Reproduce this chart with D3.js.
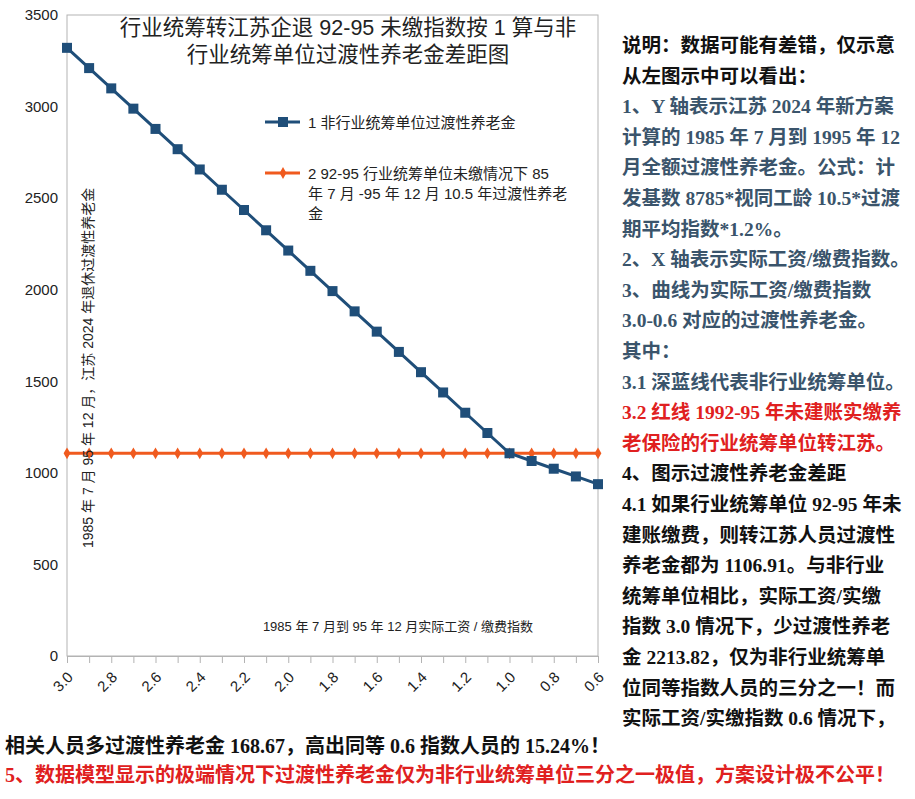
<!DOCTYPE html>
<html><head><meta charset="utf-8">
<script src="https://cdn.jsdelivr.net/npm/d3@7"></script>
<style>body{margin:0;background:#fff}</style></head>
<body><svg id="c" width="915" height="799"></svg>
<script>
const xIndex=[3.0,2.9,2.8,2.7,2.6,2.5,2.4,2.3,2.2,2.1,2.0,1.9,1.8,1.7,1.6,1.5,1.4,1.3,1.2,1.1,1.0,0.9,0.8,0.7,0.6];
const blueVals=[3320.73,3210.04,3099.35,2988.66,2877.97,2767.28,2656.58,2545.89,2435.20,2324.51,2213.82,2103.13,1992.44,1881.75,1771.06,1660.37,1549.67,1438.98,1328.29,1217.60,1106.91,1064.74,1022.57,980.41,938.24];
const redVals=xIndex.map(()=>1106.91);
const yTicks=[0,500,1000,1500,2000,2500,3000,3500];
const xTickLabels=["3.0","2.8","2.6","2.4","2.2","2.0","1.8","1.6","1.4","1.2","1.0","0.8","0.6"];
const titleLines=["行业统筹转江苏企退 92-95 未缴指数按 1 算与非","行业统筹单位过渡性养老金差距图"];
const legend1="1 非行业统筹单位过渡性养老金";
const legend2=["2 92-95 行业统筹单位未缴情况下 85","年 7 月 -95 年 12 月 10.5 年过渡性养老","金"];
const yTitle="1985 年 7 月    95 年 12 月，江苏 2024 年退休过渡性养老金";
const xTitle="1985 年 7 月到 95 年 12 月实际工资 / 缴费指数";
const notes=[
 ["说明：数据可能有差错，仅示意","#111"],
 ["从左图示中可以看出：","#111"],
 ["1、Y 轴表示江苏 2024 年新方案","#3a546b"],
 ["计算的 1985 年 7 月到 1995 年 12","#3a546b"],
 ["月全额过渡性养老金。公式：计","#3a546b"],
 ["发基数 8785*视同工龄 10.5*过渡","#3a546b"],
 ["期平均指数*1.2%。","#3a546b"],
 ["2、X 轴表示实际工资/缴费指数。","#3a546b"],
 ["3、曲线为实际工资/缴费指数","#3a546b"],
 ["3.0-0.6 对应的过渡性养老金。","#3a546b"],
 ["其中：","#3a546b"],
 ["3.1 深蓝线代表非行业统筹单位。","#3a546b"],
 ["3.2 红线 1992-95 年未建账实缴养","#e02020"],
 ["老保险的行业统筹单位转江苏。","#e02020"],
 ["4、图示过渡性养老金差距","#111"],
 ["4.1 如果行业统筹单位 92-95 年未","#111"],
 ["建账缴费，则转江苏人员过渡性","#111"],
 ["养老金都为 1106.91。与非行业","#111"],
 ["统筹单位相比，实际工资/实缴","#111"],
 ["指数 3.0 情况下，少过渡性养老","#111"],
 ["金 2213.82，仅为非行业统筹单","#111"],
 ["位同等指数人员的三分之一！而","#111"],
 ["实际工资/实缴指数 0.6 情况下，","#111"]];
const bottom=[["相关人员多过渡性养老金 168.67，高出同等 0.6 指数人员的 15.24%！","#111"],
 ["5、数据模型显示的极端情况下过渡性养老金仅为非行业统筹单位三分之一极值，方案设计极不公平！","#e02020"]];

const svg=d3.select("#c");
const L=67,R=598,T=15,B=656;
const x=d3.scaleLinear().domain([3.0,0.6]).range([L,R]);
const y=d3.scaleLinear().domain([0,3500]).range([B,T]);
const sans="'Liberation Sans','Noto Sans CJK SC',sans-serif";
const serif="'Liberation Serif','Noto Sans CJK SC',serif";
svg.append("rect").attr("x",L).attr("y",T).attr("width",R-L).attr("height",B-T).attr("fill","none").attr("stroke","#b3b3b3");
const ya=svg.append("g").attr("transform",`translate(${L},0)`).call(d3.axisLeft(y).tickValues(yTicks).tickSize(0).tickPadding(9).tickFormat(d3.format("d")));
ya.select(".domain").remove();
ya.selectAll("text").attr("font-family",sans).attr("font-size",15).attr("fill","#222");
const xa=svg.append("g").attr("transform",`translate(0,${B})`).call(d3.axisBottom(x).tickValues(xIndex).tickSize(7).tickFormat(()=>""));
xa.select(".domain").attr("stroke","#b3b3b3");
xa.selectAll("line").attr("stroke","#b3b3b3");
svg.selectAll(".xl").data(xTickLabels).enter().append("text")
 .attr("transform",d=>`translate(${x(+d)+7},${B+22}) rotate(-45)`).attr("text-anchor","end")
 .attr("font-family",sans).attr("font-size",15).attr("fill","#222").text(d=>d);
const line=d3.line().x(d=>x(d[0])).y(d=>y(d[1]));
const bd=xIndex.map((v,i)=>[v,blueVals[i]]), rd=xIndex.map((v,i)=>[v,redVals[i]]);
svg.append("path").attr("d",line(rd)).attr("fill","none").attr("stroke","#f05a1e").attr("stroke-width",3);
svg.selectAll(".rm").data(rd).enter().append("path").attr("transform",d=>`translate(${x(d[0])},${y(d[1])})`)
 .attr("d",d3.symbol(d3.symbolDiamond,40)).attr("fill","#f05a1e");
svg.append("path").attr("d",line(bd)).attr("fill","none").attr("stroke","#1f4e79").attr("stroke-width",3);
svg.selectAll(".bm").data(bd).enter().append("rect").attr("x",d=>x(d[0])-5).attr("y",d=>y(d[1])-5)
 .attr("width",10).attr("height",10).attr("fill","#1f4e79");
titleLines.forEach((t,i)=>svg.append("text").attr("x",348).attr("y",35+i*27).attr("text-anchor","middle")
 .attr("font-family",sans).attr("font-size",21.5).attr("fill","#222").text(t));
svg.append("line").attr("x1",265).attr("x2",300).attr("y1",122).attr("y2",122).attr("stroke","#1f4e79").attr("stroke-width",3);
svg.append("rect").attr("x",278).attr("y",117).attr("width",10).attr("height",10).attr("fill","#1f4e79");
svg.append("text").attr("x",308).attr("y",128).attr("font-family",sans).attr("font-size",15).attr("fill","#222").text(legend1);
svg.append("line").attr("x1",265).attr("x2",300).attr("y1",173).attr("y2",173).attr("stroke","#f05a1e").attr("stroke-width",3);
svg.append("path").attr("transform","translate(283,173)").attr("d",d3.symbol(d3.symbolDiamond,40)).attr("fill","#f05a1e");
legend2.forEach((t,i)=>svg.append("text").attr("x",308).attr("y",179+i*20).attr("font-family",sans).attr("font-size",15).attr("fill","#222").text(t));
svg.append("text").attr("transform","translate(93,548) rotate(-90)").attr("font-family",sans).attr("font-size",14).attr("fill","#222").text(yTitle);
svg.append("text").attr("x",398).attr("y",631).attr("text-anchor","middle").attr("font-family",sans).attr("font-size",13).attr("fill","#222").text(xTitle);
notes.forEach((n,i)=>svg.append("text").attr("x",622).attr("y",52+i*30.6).attr("font-family",serif).attr("font-weight","bold")
 .attr("font-size",19.5).attr("fill",n[1]).text(n[0]));
bottom.forEach((n,i)=>svg.append("text").attr("x",5).attr("y",753+i*29).attr("font-family",serif).attr("font-weight","bold")
 .attr("font-size",20).attr("fill",n[1]).text(n[0]));
</script></body></html>
